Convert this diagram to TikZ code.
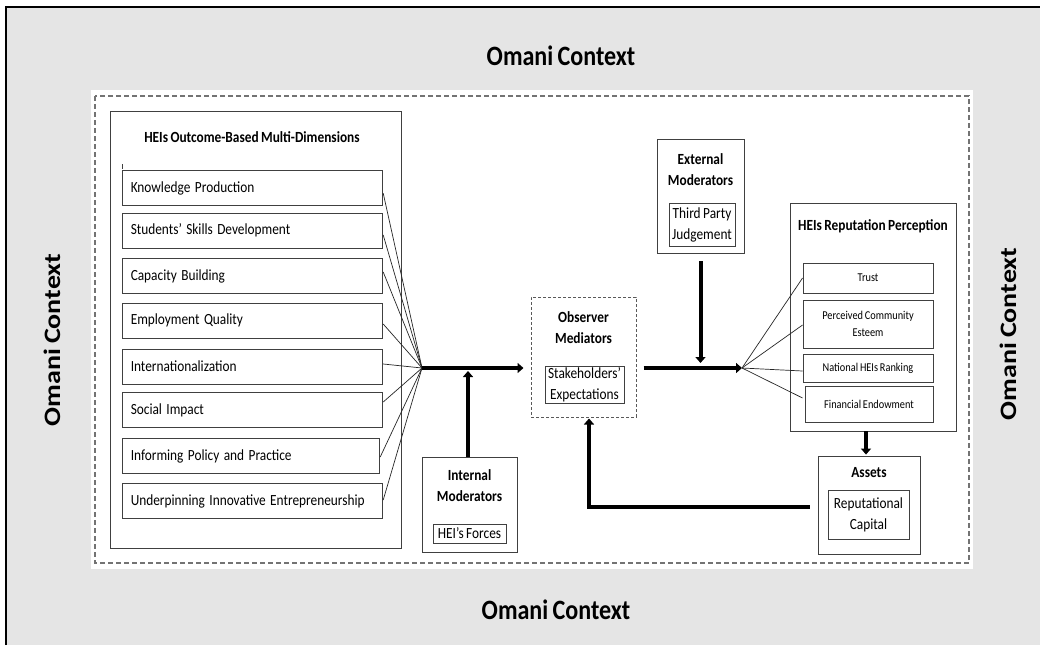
\documentclass[tikz,border=0pt]{standalone}
\usepackage{fontspec}
\setmainfont{Carlito}[WordSpace=0.8]
\usepackage{graphicx}
\usetikzlibrary{arrows.meta,calc}
\newcommand\hs[1]{\scalebox{0.86}[1]{#1}}
\newcommand\vsq[1]{\scalebox{1}[0.84]{#1}}
\begin{document}
\begin{tikzpicture}[x=1pt,y=-1pt,
  bx/.style={draw=black!75, line width=0.9pt, inner sep=0pt},
  ctx/.style={font=\bfseries\fontsize{28}{32}\selectfont, inner sep=0pt},
  head/.style={font=\bfseries\fontsize{15.5}{21}\selectfont, align=center, inner sep=0pt},
  itm/.style={bx, minimum height=35pt, text width=244pt, inner xsep=8pt, align=left,
              font=\fontsize{15.5}{19}\selectfont},
  inner/.style={bx, align=center, font=\fontsize{15.5}{21}\selectfont},
  ritm/.style={bx, minimum width=130pt, align=center, font=\fontsize{12}{17}\selectfont},
  thk/.style={line width=4pt, -{Triangle[length=6pt,width=10pt]}},
  fan/.style={line width=0.7pt, black!85}
]
\useasboundingbox (0,0) rectangle (1040,645);
\fill[white] (0,0) rectangle (1040,645);
\fill[gray!20] (6,7) rectangle (1040,645);
\draw[line width=2.2pt] (6,645) -- (6,7) -- (1040,7);
\fill[white] (91,90) rectangle (973,569);
\draw[black!55, line width=1.3pt, dash pattern=on 5pt off 3pt] (95,96) rectangle (969,563);

% context labels
\node[ctx] (ctop) at (561,56) {\hs{Omani Context}};
\node[ctx] (cbot) at (556,610) {\hs{Omani Context}};
\node[ctx, rotate=90] (cleft) at (52,340) {\vsq{Omani Context}};
\node[ctx, rotate=90] (cright) at (1008,334) {\vsq{Omani Context}};

% left block
\node[bx, minimum width=291pt, minimum height=437pt] (lbox) at (255.5,329.5) {};
\node[head] (ltitle) at (252,137) {\hs{HEIs Outcome-Based Multi-Dimensions}};
\node[itm] (k1) at (252.75,188.25) {\hs{Knowledge Production}};
\node[itm] (k2) at (252.75,230.5) {\hs{Students’ Skills Development}};
\node[itm] (k3) at (252.75,276) {\hs{Capacity Building}};
\node[itm] (k4) at (252.75,320.5) {\hs{Employment Quality}};
\node[itm] (k5) at (252.75,366.5) {\hs{Internationalization}};
\node[itm] (k6) at (252.75,410) {\hs{Social Impact}};
\node[itm, text width=241pt] (k7) at (251.25,456) {\hs{Informing Policy and Practice}};
\node[itm] (k8) at (252.75,501) {\hs{Underpinning Innovative Entrepreneurship}};
\draw[bx] (122.75,164) -- (122.75,169);

\coordinate (hub) at (422,368);
\draw[fan] ([yshift=-5pt]k1.east) -- (hub);
\draw[fan] ([yshift=-4.5pt]k2.east) -- (hub);
\draw[fan] ([yshift=4pt]k3.east) -- (hub);
\draw[fan] ([yshift=-3.5pt]k4.east) -- (hub);
\draw[fan] ([yshift=2.5pt]k5.east) -- (hub);
\draw[fan] ([yshift=8pt]k6.east) -- (hub);
\draw[fan] ([yshift=-1pt]k7.east) -- (hub);
\draw[fan] ([yshift=1pt]k8.east) -- (hub);

% observer mediators
\node[draw=black!65, line width=1pt, dash pattern=on 3pt off 2pt, minimum width=105pt, minimum height=120pt, inner sep=0pt] (obs) at (583.5,357) {};
\node[head] (obst) at (583.5,328) {\hs{Observer}\\\hs{Mediators}};
\node[inner, minimum width=79pt, minimum height=37pt] (stk) at (584.5,384.5) {\hs{Stakeholders’}\\\hs{Expectations}};
\draw[thk, shorten >=7pt] (hub) -- (obs.west |- hub);

% internal moderators
\node[bx, minimum width=95pt, minimum height=95pt] (intm) at (469.5,504.5) {};
\node[head] (intt) at (469.5,486) {\hs{Internal}\\\hs{Moderators}};
\node[inner, minimum width=73pt, minimum height=19pt] (hei) at (469.5,533.5) {\hs{HEI’s Forces}};
\draw[thk] ([xshift=-1.5pt]intm.north) -- ($([xshift=-1.5pt]intm.north |- hub)+(0,3)$);

% external moderators
\node[bx, minimum width=87pt, minimum height=114pt] (extm) at (700.5,196) {};
\node[head] (extt) at (700.5,170) {\hs{External}\\\hs{Moderators}};
\node[inner, minimum width=66pt, minimum height=43pt] (tpj) at (702,224.5) {\hs{Third Party}\\\hs{Judgement}};
\coordinate (hubr) at (742,368);
\draw[thk, shorten <=8pt] (extm.south) -- ($(extm.south |- hubr)+(0,-5)$);
\draw[thk, shorten <=7pt] (obs.east |- hub) -- (hubr);

% reputation perception
\node[bx, minimum width=166pt, minimum height=228pt] (rep) at (873,317) {};
\node[head] (rept) at (873,226) {\hs{HEIs Reputation Perception}};
\node[ritm, minimum height=30pt] (r1) at (868,278) {\hs{Trust}};
\node[ritm, minimum height=48pt] (r2) at (868,324) {\hs{Perceived Community}\\\hs{Esteem}};
\node[ritm, minimum height=28pt] (r3) at (868,368) {\hs{National HEIs Ranking}};
\node[ritm, minimum width=128pt, minimum height=36pt] (r4) at (869,404) {\hs{Financial Endowment}};
\draw[fan] (hubr) -- (r1.west);
\draw[fan] (hubr) -- ([yshift=-1pt]r2.west);
\draw[fan] (hubr) -- ([yshift=-3pt]r3.west);
\draw[fan] (hubr) -- ([xshift=-2pt,yshift=6pt]r4.west);

% assets
\node[bx, minimum width=102pt, minimum height=98pt] (assets) at (869,505) {};
\node[head] (asst) at (869,473) {\hs{Assets}};
\node[inner, minimum width=81pt, minimum height=49pt] (rc) at (868.5,514.5) {\hs{Reputational}\\\hs{Capital}};
\draw[thk, shorten >=1pt] ([xshift=-3pt]assets.north |- rep.south) -- ([xshift=-3pt]assets.north);

% feedback
\draw[thk, shorten >=1pt] ([yshift=-2pt,xshift=-8pt]assets.west) -| ([xshift=5.5pt]obs.south);
\end{tikzpicture}
\end{document}
